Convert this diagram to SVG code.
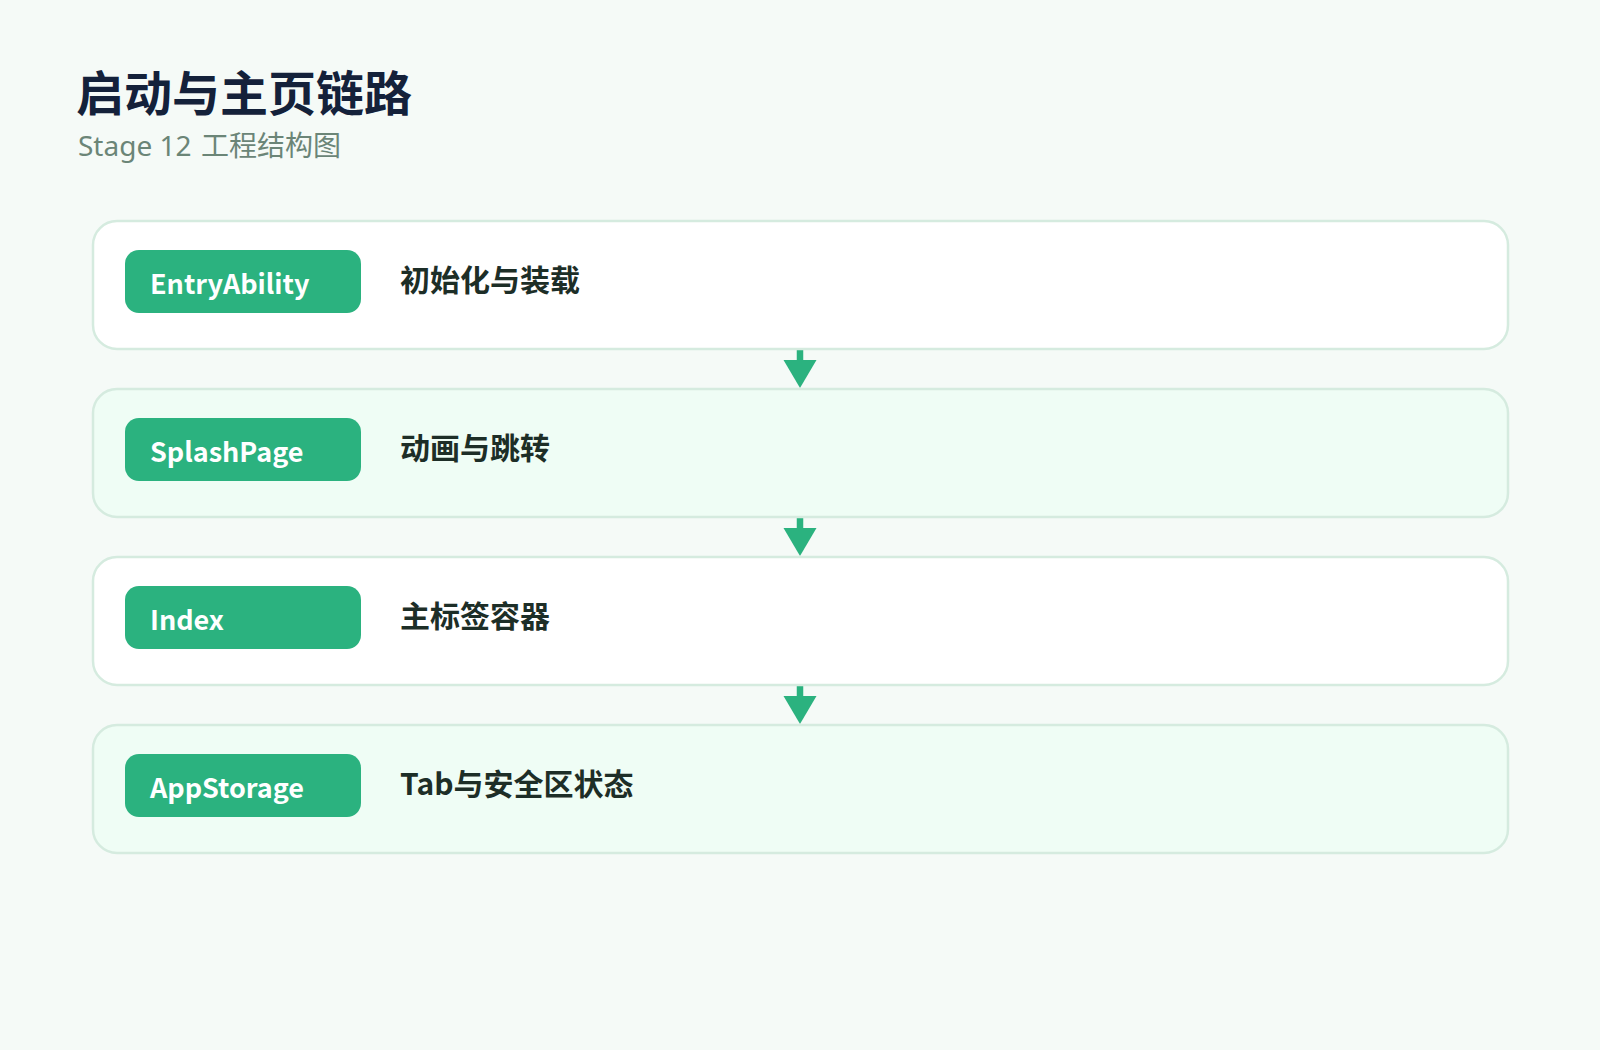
<svg xmlns="http://www.w3.org/2000/svg" width="1600" height="1050" viewBox="0 0 1600 1050">
<defs>
<style>
.title{font-family:"Noto Sans CJK SC","Noto Sans",sans-serif;font-size:48px;font-weight:700;fill:#14213a}
.sub{font-family:"Noto Sans","Noto Sans CJK SC",sans-serif;font-size:28px;fill:#6b8577}
.subc{font-family:"Noto Sans CJK SC",sans-serif;font-size:28px}
.card{stroke:#d5ebdf;stroke-width:2.5}
.w{fill:#ffffff}
.m{fill:#effdf5}
.pill{fill:#2bb27f}
.pt{font-family:"Noto Sans CJK SC","Noto Sans",sans-serif;font-size:27px;font-weight:700;fill:#ffffff}
.dt{font-family:"Noto Sans CJK SC","Noto Sans",sans-serif;font-size:30px;font-weight:700;fill:#1d2e27}
.conn{stroke:#2bb27f;stroke-width:6.5;fill:none}
.head{fill:#2bb27f}
</style>
</defs>
<rect x="0" y="0" width="1600" height="1050" fill="#f5faf7"/>
<text class="title" x="76" y="111">启动与主页链路</text>
<text class="sub" x="78" y="156">Stage 12 <tspan class="subc" x="201">工程结构图</tspan></text>
<g id="connectors">
<path class="conn" d="M800 349 V362"/>
<polygon class="head" points="783.5,360 816.5,360 800,388"/>
<path class="conn" d="M800 517 V530"/>
<polygon class="head" points="783.5,528 816.5,528 800,556"/>
<path class="conn" d="M800 685 V698"/>
<polygon class="head" points="783.5,696 816.5,696 800,724"/>
</g>
<g id="node-entryability">
<rect class="card w" x="93" y="221" width="1415" height="128" rx="24"/>
<rect class="pill" x="125" y="250" width="236" height="63" rx="14"/>
<text class="pt" x="150" y="294">EntryAbility</text>
<text class="dt" x="400" y="291">初始化与装载</text>
</g>
<g id="node-splashpage">
<rect class="card m" x="93" y="389" width="1415" height="128" rx="24"/>
<rect class="pill" x="125" y="418" width="236" height="63" rx="14"/>
<text class="pt" x="150" y="462">SplashPage</text>
<text class="dt" x="400" y="459">动画与跳转</text>
</g>
<g id="node-index">
<rect class="card w" x="93" y="557" width="1415" height="128" rx="24"/>
<rect class="pill" x="125" y="586" width="236" height="63" rx="14"/>
<text class="pt" x="150" y="630">Index</text>
<text class="dt" x="400" y="627">主标签容器</text>
</g>
<g id="node-appstorage">
<rect class="card m" x="93" y="725" width="1415" height="128" rx="24"/>
<rect class="pill" x="125" y="754" width="236" height="63" rx="14"/>
<text class="pt" x="150" y="798">AppStorage</text>
<text class="dt" x="400" y="795">Tab与安全区状态</text>
</g>
</svg>
